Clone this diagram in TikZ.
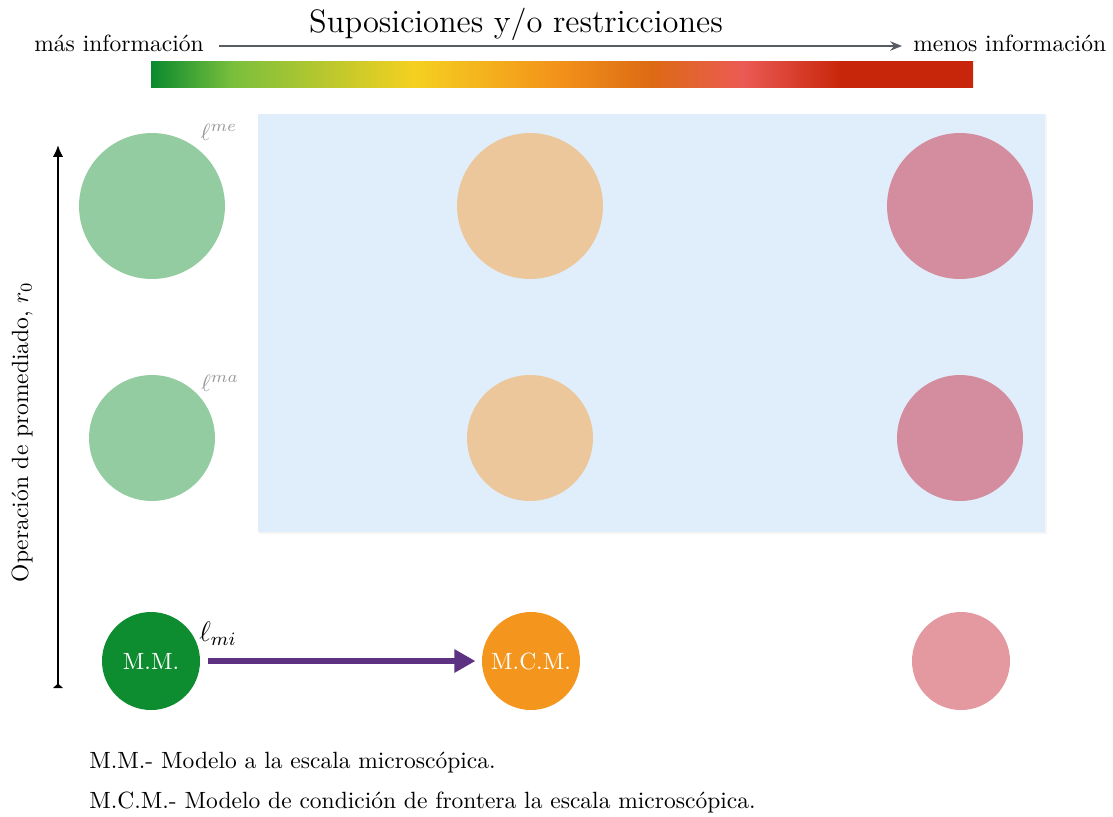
\documentclass[tikz,border=0pt]{standalone}
\usepackage{amsmath}
\usepackage{amssymb}
\usetikzlibrary{arrows.meta}

\definecolor{verdeC}{RGB}{147,204,161}
\definecolor{naranjaC}{RGB}{236,199,155}
\definecolor{rosaC}{RGB}{212,141,159}
\definecolor{verdeF}{RGB}{14,140,48}
\definecolor{naranjaF}{RGB}{244,150,30}
\definecolor{rosaF}{RGB}{227,153,159}
\definecolor{fondo}{RGB}{224,238,251}
\definecolor{morado}{RGB}{94,50,130}
\definecolor{gris}{RGB}{87,92,99}
\definecolor{c0}{RGB}{10,138,46}
\definecolor{c1}{RGB}{122,191,60}
\definecolor{c2}{RGB}{245,208,32}
\definecolor{c3}{RGB}{243,148,26}
\definecolor{c4}{RGB}{220,106,20}
\definecolor{c5}{RGB}{235,90,85}
\definecolor{c6}{RGB}{200,38,10}
\pgfdeclarehorizontalshading{infobar}{100bp}{color(0bp)=(c0); color(25bp)=(c0);
  color(30bp)=(c1); color(41bp)=(c2); color(49.5bp)=(c3); color(55.5bp)=(c4);
  color(61bp)=(c5); color(67bp)=(c6); color(75bp)=(c6); color(100bp)=(c6)}

\begin{document}
\begin{tikzpicture}[x=0.4255pt,y=-0.4255pt,
    dot/.style={circle,inner sep=0pt,minimum size=#1},
    lbl/.style={text=black!40}]
                \useasboundingbox (0,0) rectangle (1113,816);
                % escala de informacion
                \node (titulo) at (516,24) {\fontsize{13.8pt}{16pt}\selectfont Suposiciones y/o restricciones};
                \node[anchor=base east] (mas) at (212,51) {m\'as informaci\'on};
                \node[anchor=base west] (menos) at (905,51) {menos informaci\'on};
                \coordinate (infoL) at (219,46);
                \coordinate (infoR) at (902,46);
                \draw[gris,line width=0.9pt,-{Stealth[length=5pt,width=4pt]}] (infoL)--(infoR);
                \shade[shading=infobar] (151,61) rectangle (973,87);
                % region sombreada
                \fill[black!4] (259,115) rectangle (1047,534);
                \fill[fondo] (258,114) rectangle (1045,532);
                % circulos
                \node[dot=62.1pt,fill=verdeC] (gme) at (152,206) {};
                \node[dot=62.1pt,fill=naranjaC] (ome) at (530,206) {};
                \node[dot=62.1pt,fill=rosaC] (pme) at (960,206) {};
                \node[dot=53.6pt,fill=verdeC] (gma) at (152,438) {};
                \node[dot=53.6pt,fill=naranjaC] (oma) at (530,438) {};
                \node[dot=53.6pt,fill=rosaC] (pma) at (960,438) {};
                \node[dot=41.7pt,fill=verdeF,text=white] (gmi) at (151,661) {M.M.};
                \node[dot=41.7pt,fill=naranjaF,text=white] (omi) at (531,661) {M.C.M.};
                \node[dot=41.7pt,fill=rosaF] (pmi) at (961,661) {};
                \node[lbl] at (219,132) {$\ell^{me}$};
                \node[lbl] at (220,383) {$\ell^{ma}$};
                \node at (218,634) {\large $\ell_{mi}$};
                \draw[morado,line width=2.2pt,-{Triangle[length=9pt,width=9.5pt]},shorten <=3.4pt,shorten >=2.6pt] (gmi)--(omi);
                % eje vertical
                \coordinate (r0a) at (58,688);
                \coordinate (r0b) at (58,145);
                \draw[line width=0.9pt,{Triangle[reversed,length=2pt,width=4pt]}-{Latex[length=5pt,width=4.4pt]}] (r0a)--(r0b);
                \node[rotate=90] (eje) at (22,432) {Operaci\'on de promediado, $r_0$};
                % notas
                \node[anchor=base west] (nota1) at (81,768) {M.M.- Modelo a la escala microsc\'opica.};
                \node[anchor=base west] (nota2) at (81,808) {M.C.M.- Modelo de condici\'on de frontera la escala microsc\'opica.};
\end{tikzpicture}
\end{document}
